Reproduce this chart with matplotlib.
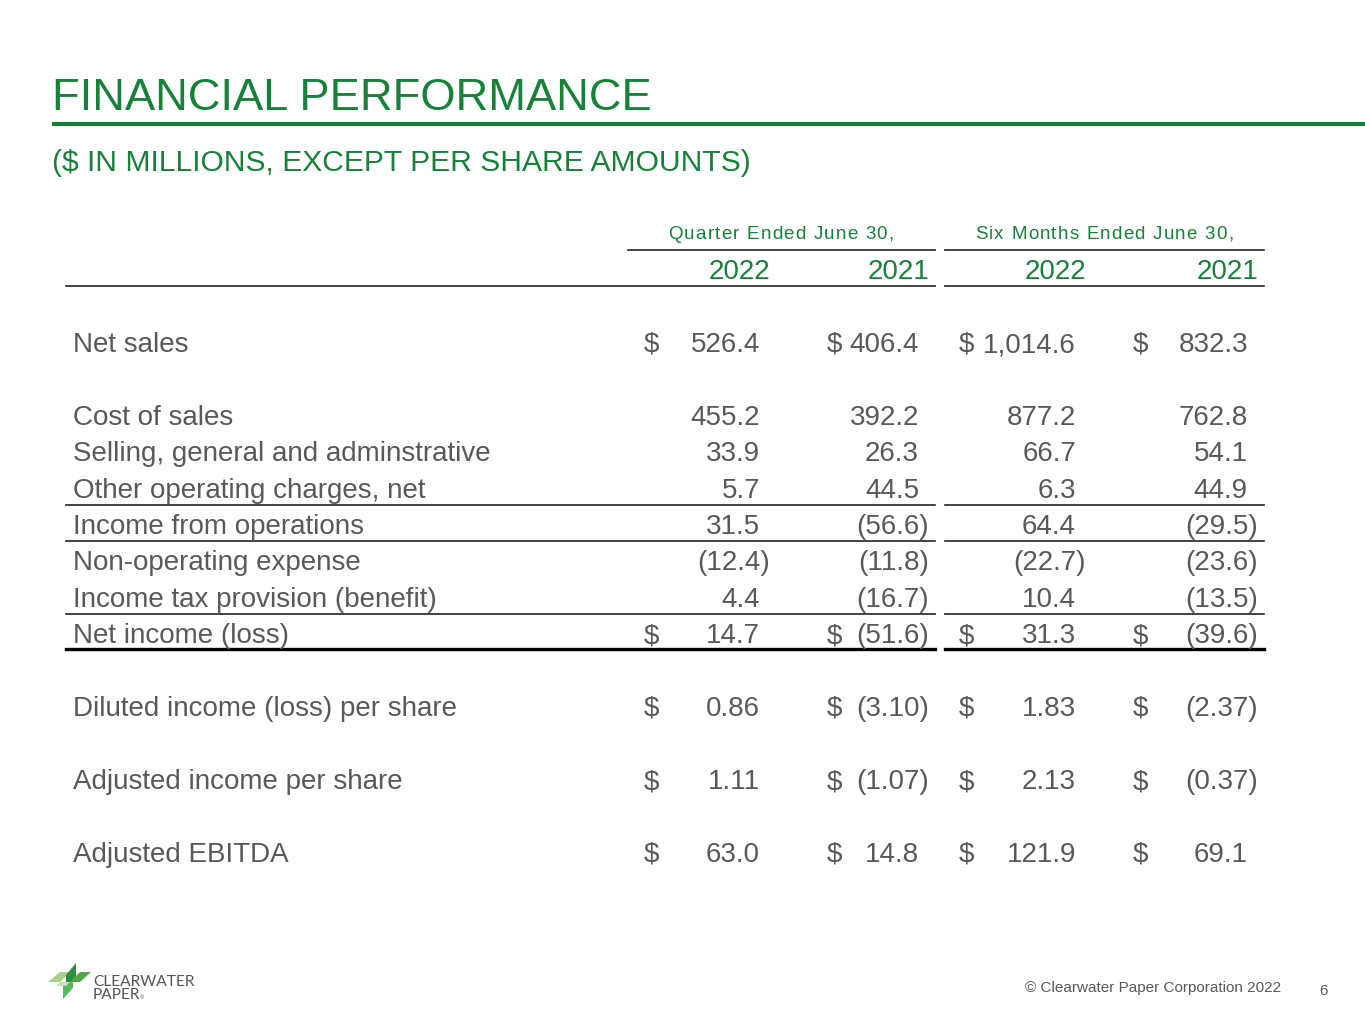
import matplotlib
matplotlib.use("Agg")
import matplotlib.pyplot as plt
from matplotlib.patches import Polygon

plt.rcParams['font.family'] = ['Liberation Sans', 'DejaVu Sans']

GREEN = '#17813a'
GRAY = '#595959'

# table data ($ in millions, except per share)
labels = ["Net sales", "Cost of sales", "Selling, general and adminstrative",
          "Other operating charges, net", "Income from operations",
          "Non-operating expense", "Income tax provision (benefit)",
          "Net income (loss)", "Diluted income (loss) per share",
          "Adjusted income per share", "Adjusted EBITDA"]
q2022 = [526.4, 455.2, 33.9, 5.7, 31.5, -12.4, 4.4, 14.7, 0.86, 1.11, 63.0]
q2021 = [406.4, 392.2, 26.3, 44.5, -56.6, -11.8, -16.7, -51.6, -3.10, -1.07, 14.8]
s2022 = [1014.6, 877.2, 66.7, 6.3, 64.4, -22.7, 10.4, 31.3, 1.83, 2.13, 121.9]
s2021 = [832.3, 762.8, 54.1, 44.9, -29.5, -23.6, -13.5, -39.6, -2.37, -0.37, 69.1]
decimals = [1, 1, 1, 1, 1, 1, 1, 1, 2, 2, 1]
dollar = [True, False, False, False, False, False, False, True, True, True, True]
groups = ["Quarter Ended June 30,", "Six Months Ended June 30,"]
years = ["2022", "2021", "2022", "2021"]

# layout (pixels)
row_y = [352, 425, 461, 498, 534, 570, 607, 643, 716, 789, 862]
col_right = [760, 919, 1076, 1248]
dollar_x = [644, 827, 959, 1133]
paren_w = 10
FS = 20


def fmt(v, d):
    s = f"{abs(v):,.{d}f}"
    return f"({s})" if v < 0 else s


def spaced(x, y, s, track, **kw):
    # draw a string centred at x with extra letter spacing (pixels)
    r = fig.canvas.get_renderer()
    widths = []
    for ch in s:
        t = ax.text(0, 0, ch, **kw)
        widths.append(t.get_window_extent(renderer=r).width if ch != ' ' else None)
        t.remove()
    sp = ax.text(0, 0, 'a a', **kw)
    wa = ax.text(0, 0, 'aa', **kw)
    space_w = sp.get_window_extent(renderer=r).width - wa.get_window_extent(renderer=r).width
    sp.remove()
    wa.remove()
    widths = [space_w if w is None else w for w in widths]
    total = sum(widths) + track * (len(s) - 1)
    cx = x - total / 2
    for ch, w in zip(s, widths):
        ax.text(cx, y, ch, ha='left', **kw)
        cx += w + track


fig = plt.figure(figsize=(13.65, 10.24), dpi=100)
ax = fig.add_axes([0, 0, 1, 1])
ax.set_xlim(0, 1365)
ax.set_ylim(1024, 0)
ax.axis('off')

# title block
ax.text(52, 110, "FINANCIAL PERFORMANCE", color=GREEN, fontsize=32.6, va='baseline')
ax.plot([52, 1365], [124, 124], color=GREEN, lw=2.9, solid_capstyle='butt')
ax.text(52, 171, "($ IN MILLIONS, EXCEPT PER SHARE AMOUNTS)", color=GREEN,
        fontsize=21.6, va='baseline')

# column headers
spaced(781, 239, groups[0], 1.2, color=GREEN, fontsize=13.5, va='baseline')
spaced(1104, 239, groups[1], 1.2, color=GREEN, fontsize=13.5, va='baseline')
for x, yr in zip(col_right, years):
    ax.text(x + paren_w, 279, yr, color=GREEN, fontsize=FS, ha='right', va='baseline')

segs = [(66, 935), (945, 1264)]
ax.plot([628, 935], [250, 250], color='#222222', lw=1.2)
ax.plot([945, 1264], [250, 250], color='#222222', lw=1.2)
for x0, x1 in segs:
    ax.plot([x0, x1], [286, 286], color='#222222', lw=1.2)
    for y in (505, 541, 614):
        ax.plot([x0, x1], [y, y], color='#222222', lw=1.2)
    ax.plot([x0, x1], [649, 649], color='black', lw=2.4)

# body rows
cols = [q2022, q2021, s2022, s2021]
for i, lab in enumerate(labels):
    y = row_y[i]
    ax.text(73, y, lab, color=GRAY, fontsize=FS, va='baseline')
    for c, vals in enumerate(cols):
        v = vals[i]
        xr = col_right[c] + (paren_w if v < 0 else 0)
        ax.text(xr, y, fmt(v, decimals[i]), color=GRAY, fontsize=FS,
                ha='right', va='baseline')
        if dollar[i]:
            ax.text(dollar_x[c], y, "$", color=GRAY, fontsize=FS, va='baseline')

# footer
ax.text(1281, 992, "\u00a9 Clearwater Paper Corporation 2022", color=GRAY,
        fontsize=11, ha='right', va='baseline')
ax.text(1323, 995, "6", color=GRAY, fontsize=11, ha='center', va='baseline')

# logo mark
ax.add_patch(Polygon([(48, 982), (60, 972), (70, 972), (60, 982)], closed=True,
                     color='#a9d18e', lw=0))
ax.add_patch(Polygon([(66, 975), (76, 963), (76, 982), (66, 982)], closed=True,
                     color='#2f8f3c', lw=0))
ax.add_patch(Polygon([(70, 982), (80, 972), (91, 972), (80, 982)], closed=True,
                     color='#4fa84a', lw=0))
ax.add_patch(Polygon([(63, 982), (73, 982), (73, 988), (63, 999)], closed=True,
                     color='#5cb85c', lw=0))
ax.add_patch(Polygon([(60, 982), (70, 982), (66, 986), (56, 986)], closed=True,
                     color='#c5e0b4', lw=0))
ax.text(93, 986, "CLEARWATER", color='#555555', fontsize=11.2, family='Lato',
        va='baseline')
ax.text(93, 999, "PAPER", color='#555555', fontsize=11.2, family='Lato',
        va='baseline')
ax.text(140, 999, "\u00ae", color='#555555', fontsize=4, va='baseline')

fig.savefig("out.png", dpi=100, facecolor='white')
